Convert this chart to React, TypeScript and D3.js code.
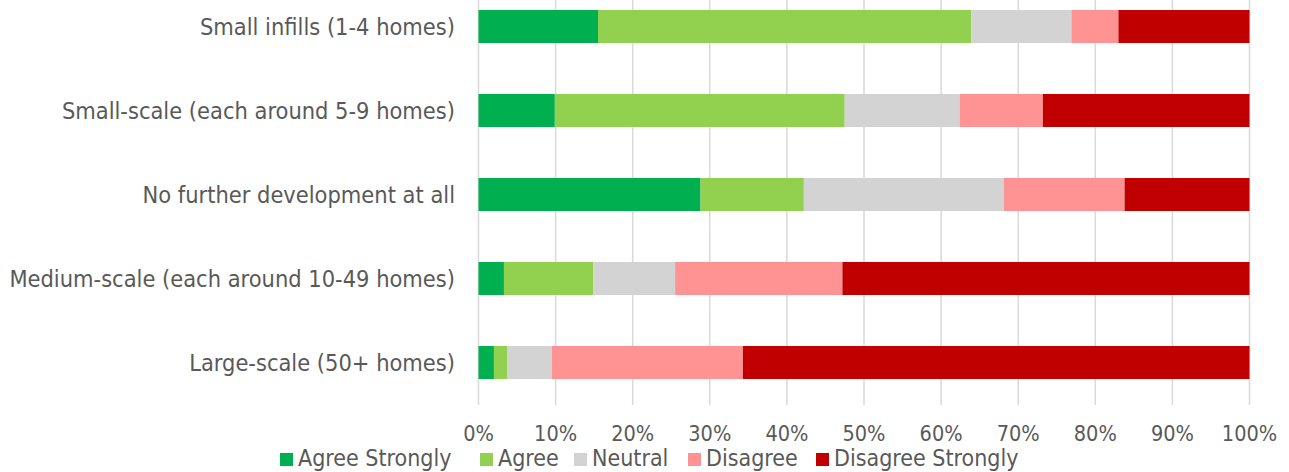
import React from "react";
import * as d3 from "d3";

const categories = [
  "Small infills (1-4 homes)",
  "Small-scale (each around 5-9 homes)",
  "No further development at all",
  "Medium-scale (each around 10-49 homes)",
  "Large-scale (50+ homes)",
];
const seriesNames = ["Agree Strongly", "Agree", "Neutral", "Disagree", "Disagree Strongly"];
const seriesColors = ["#00B050", "#92D050", "#D3D3D3", "#FF9393", "#C00000"];
const agreeStrongly = [15.5, 9.9, 28.8, 3.3, 2.0];
const agree = [48.4, 37.6, 13.4, 11.6, 1.7];
const neutral = [13.0, 14.9, 25.9, 10.6, 5.8];
const disagree = [6.1, 10.8, 15.7, 21.7, 24.8];
const disagreeStrongly = [17.0, 26.8, 16.2, 52.8, 65.7];
const tickValues = [0, 10, 20, 30, 40, 50, 60, 70, 80, 90, 100];

const W = 1289;
const H = 472;
const FONT = "'DejaVu Sans Condensed', 'DejaVu Sans', sans-serif";
const TICKFONT = "'Liberation Sans Narrow', 'DejaVu Sans Condensed', sans-serif";
const TEXT = "#595959";

export default function App() {
  const series = [agreeStrongly, agree, neutral, disagree, disagreeStrongly];
  const rows = categories.map((c, i) => {
    const r: any = { cat: c };
    seriesNames.forEach((s, j) => (r[s] = series[j][i]));
    return r;
  });
  const stacked = d3.stack<any>().keys(seriesNames)(rows);
  const x = d3.scaleLinear().domain([0, 100]).range([478.5, 1249.5]);
  const y = d3
    .scaleBand<string>()
    .domain(categories)
    .range([-15.5, 404.5])
    .paddingInner(0.6)
    .paddingOuter(0.3);

  const bw = 33;
  const legendText = [298, 498, 592, 706, 834];

  return (
    <div style={{ position: "absolute", left: 0, top: 0 }}>
      <svg width={W} height={H} style={{ display: "block", background: "#fff" }}>
        {tickValues.map((t) => (
          <line
            key={t}
            x1={x(t)}
            x2={x(t)}
            y1={0}
            y2={405}
            stroke="#D9D9D9"
            strokeWidth={1.5}
          />
        ))}
        {stacked.map((layer, j) => (
          <g key={layer.key} fill={seriesColors[j]}>
            {layer.map((d, i) => {
              const cy = (y(categories[i]) as number) + y.bandwidth() / 2;
              return (
                <rect
                  key={i}
                  x={x(d[0])}
                  width={x(d[1]) - x(d[0])}
                  y={cy - bw / 2}
                  height={bw}
                />
              );
            })}
          </g>
        ))}
        {categories.map((c) => (
          <text
            key={c}
            x={455}
            y={(y(c) as number) + y.bandwidth() / 2}
            dy="0.36em"
            textAnchor="end"
            fontFamily={FONT}
            fontSize={23.4}
            fill={TEXT}
          >
            {c}
          </text>
        ))}
        {tickValues.map((t) => (
          <text
            key={t}
            x={x(t)}
            y={441}
            textAnchor="middle"
            fontFamily={TICKFONT}
            fontSize={21.5}
            fill={TEXT}
          >
            {t + "%"}
          </text>
        ))}
        {seriesNames.map((s, j) => (
          <g key={s}>
            <rect x={legendText[j] - 18} y={453} width={13} height={13} fill={seriesColors[j]} />
            <text
              x={legendText[j]}
              y={466}
              fontFamily={FONT}
              fontSize={23}
              fill={TEXT}
            >
              {s}
            </text>
          </g>
        ))}
      </svg>
    </div>
  );
}
